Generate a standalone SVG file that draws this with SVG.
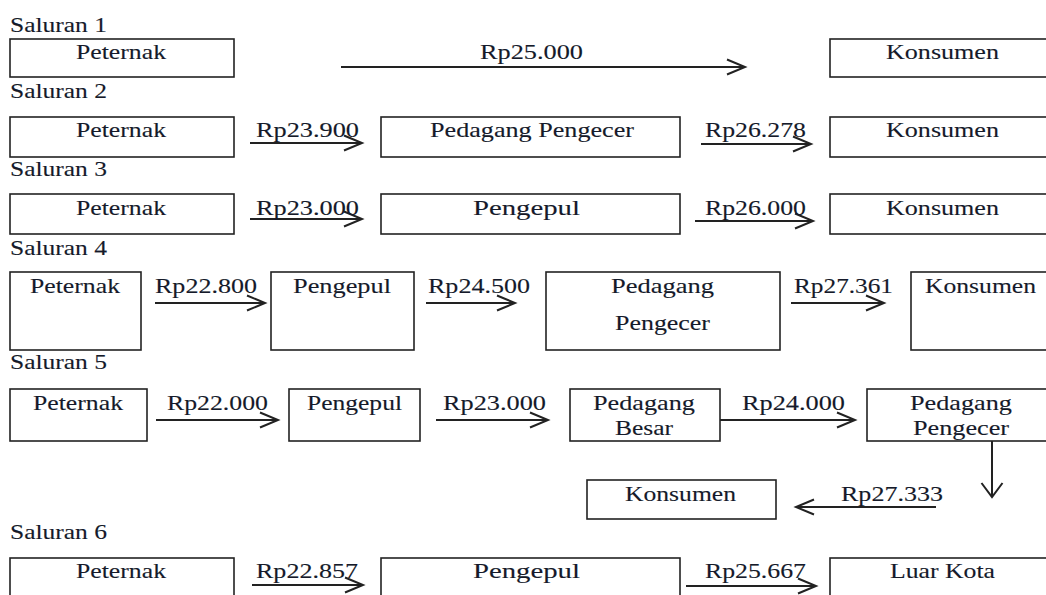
<svg xmlns="http://www.w3.org/2000/svg" width="1046" height="595" viewBox="0 0 1046 595">
<style>
  .box { fill: #fff; stroke: #222; stroke-width: 1.6; }
  .t { font-family: 'Liberation Serif', 'DejaVu Serif', 'Times New Roman', serif; font-size: 21.5px; fill: #151a2a; stroke: #151a2a; stroke-width: 0.12; }
  .ln { stroke: #222; stroke-width: 2; fill: none; }
</style>
<defs>
  <marker id="ah" viewBox="0 0 19 16" refX="18" refY="8" markerWidth="19" markerHeight="16" orient="auto" markerUnits="userSpaceOnUse" overflow="visible">
    <path d="M0,0.5 L18,8 L0,15.5" fill="none" stroke="#222" stroke-width="2"/>
  </marker>
  <marker id="ahd" viewBox="0 0 15 22" refX="14" refY="11" markerWidth="15" markerHeight="22" orient="auto" markerUnits="userSpaceOnUse" overflow="visible">
    <path d="M0,0.5 L14,11 L0,21.5" fill="none" stroke="#222" stroke-width="2"/>
  </marker>
</defs>
<rect width="1046" height="595" fill="#fff"/>

<g font-family="Liberation Serif, DejaVu Serif, serif">
<g id="titles">
  <text class="t" x="10" y="32" textLength="97" lengthAdjust="spacingAndGlyphs">Saluran 1</text>
  <text class="t" x="10" y="98" textLength="97" lengthAdjust="spacingAndGlyphs">Saluran 2</text>
  <text class="t" x="10" y="176" textLength="97" lengthAdjust="spacingAndGlyphs">Saluran 3</text>
  <text class="t" x="10" y="255" textLength="97" lengthAdjust="spacingAndGlyphs">Saluran 4</text>
  <text class="t" x="10" y="369" textLength="97" lengthAdjust="spacingAndGlyphs">Saluran 5</text>
  <text class="t" x="10" y="539" textLength="97" lengthAdjust="spacingAndGlyphs">Saluran 6</text>
</g>

<g id="s1-peternak"><rect class="box" x="10" y="39" width="224" height="38"/><text class="t" x="76" y="59" textLength="90" lengthAdjust="spacingAndGlyphs">Peternak</text></g>
<g id="s1-konsumen"><rect class="box" x="830" y="39" width="230" height="38"/><text class="t" x="886" y="59" textLength="113" lengthAdjust="spacingAndGlyphs">Konsumen</text></g>

<g id="s2-peternak"><rect class="box" x="10" y="117" width="224" height="40"/><text class="t" x="76" y="137" textLength="90" lengthAdjust="spacingAndGlyphs">Peternak</text></g>
<g id="s2-pengecer"><rect class="box" x="381" y="117" width="299" height="40"/><text class="t" x="430" y="137" textLength="204" lengthAdjust="spacingAndGlyphs">Pedagang Pengecer</text></g>
<g id="s2-konsumen"><rect class="box" x="830" y="117" width="230" height="40"/><text class="t" x="886" y="137" textLength="113" lengthAdjust="spacingAndGlyphs">Konsumen</text></g>

<g id="s3-peternak"><rect class="box" x="10" y="194" width="224" height="40"/><text class="t" x="76" y="215" textLength="90" lengthAdjust="spacingAndGlyphs">Peternak</text></g>
<g id="s3-pengepul"><rect class="box" x="381" y="194" width="299" height="40"/><text class="t" x="473" y="215" textLength="107" lengthAdjust="spacingAndGlyphs">Pengepul</text></g>
<g id="s3-konsumen"><rect class="box" x="830" y="194" width="230" height="40"/><text class="t" x="886" y="215" textLength="113" lengthAdjust="spacingAndGlyphs">Konsumen</text></g>

<g id="s4-peternak"><rect class="box" x="10" y="272" width="131" height="78"/><text class="t" x="30" y="293" textLength="90" lengthAdjust="spacingAndGlyphs">Peternak</text></g>
<g id="s4-pengepul"><rect class="box" x="271" y="272" width="143" height="78"/><text class="t" x="293" y="293" textLength="98" lengthAdjust="spacingAndGlyphs">Pengepul</text></g>
<g id="s4-pengecer"><rect class="box" x="546" y="272" width="234" height="78"/><text class="t" x="611" y="293" textLength="103" lengthAdjust="spacingAndGlyphs">Pedagang</text><text class="t" x="615" y="330" textLength="95" lengthAdjust="spacingAndGlyphs">Pengecer</text></g>
<g id="s4-konsumen"><rect class="box" x="911" y="272" width="150" height="78"/><text class="t" x="925" y="293" textLength="111" lengthAdjust="spacingAndGlyphs">Konsumen</text></g>

<g id="s5-peternak"><rect class="box" x="10" y="389" width="137" height="52"/><text class="t" x="33" y="410" textLength="90" lengthAdjust="spacingAndGlyphs">Peternak</text></g>
<g id="s5-pengepul"><rect class="box" x="289" y="389" width="131" height="52"/><text class="t" x="307" y="410" textLength="95" lengthAdjust="spacingAndGlyphs">Pengepul</text></g>
<g id="s5-besar"><rect class="box" x="570" y="389" width="150" height="52"/><text class="t" x="593" y="410" textLength="102" lengthAdjust="spacingAndGlyphs">Pedagang</text><text class="t" x="615" y="435" textLength="58" lengthAdjust="spacingAndGlyphs">Besar</text></g>
<g id="s5-pengecer"><rect class="box" x="867" y="389" width="190" height="52"/><text class="t" x="910" y="410" textLength="102" lengthAdjust="spacingAndGlyphs">Pedagang</text><text class="t" x="913" y="435" textLength="96" lengthAdjust="spacingAndGlyphs">Pengecer</text></g>
<g id="s5-konsumen"><rect class="box" x="587" y="480" width="189" height="39"/><text class="t" x="625" y="501" textLength="111" lengthAdjust="spacingAndGlyphs">Konsumen</text></g>

<g id="s6-peternak"><rect class="box" x="10" y="558" width="224" height="60"/><text class="t" x="76" y="578" textLength="90" lengthAdjust="spacingAndGlyphs">Peternak</text></g>
<g id="s6-pengepul"><rect class="box" x="381" y="558" width="299" height="60"/><text class="t" x="473" y="578" textLength="107" lengthAdjust="spacingAndGlyphs">Pengepul</text></g>
<g id="s6-luarkota"><rect class="box" x="830" y="558" width="230" height="60"/><text class="t" x="890" y="578" textLength="105" lengthAdjust="spacingAndGlyphs">Luar Kota</text></g>

<g id="connectors">
  <line class="ln" x1="341" y1="67" x2="745" y2="67" marker-end="url(#ah)"/>
  <line class="ln" x1="250" y1="143" x2="362" y2="143" marker-end="url(#ah)"/>
  <line class="ln" x1="701" y1="144" x2="811" y2="144" marker-end="url(#ah)"/>
  <line class="ln" x1="250" y1="219" x2="362" y2="219" marker-end="url(#ah)"/>
  <line class="ln" x1="695" y1="221" x2="813" y2="221" marker-end="url(#ah)"/>
  <line class="ln" x1="155" y1="303" x2="265" y2="303" marker-end="url(#ah)"/>
  <line class="ln" x1="426" y1="303" x2="515" y2="303" marker-end="url(#ah)"/>
  <line class="ln" x1="791" y1="303" x2="884" y2="303" marker-end="url(#ah)"/>
  <line class="ln" x1="156" y1="420" x2="278" y2="420" marker-end="url(#ah)"/>
  <line class="ln" x1="436" y1="420" x2="548" y2="420" marker-end="url(#ah)"/>
  <line class="ln" x1="720" y1="420" x2="855" y2="420" marker-end="url(#ah)"/>
  <line class="ln" x1="992" y1="441" x2="992" y2="497" marker-end="url(#ahd)"/>
  <line class="ln" x1="936" y1="507" x2="796" y2="507" marker-end="url(#ah)"/>
  <line class="ln" x1="252" y1="585" x2="363" y2="585" marker-end="url(#ah)"/>
  <line class="ln" x1="686" y1="586" x2="816" y2="586" marker-end="url(#ah)"/>
  <text class="t" x="480" y="59" textLength="103" lengthAdjust="spacingAndGlyphs">Rp25.000</text>
  <text class="t" x="256" y="137" textLength="103" lengthAdjust="spacingAndGlyphs">Rp23.900</text>
  <text class="t" x="705" y="137" textLength="101" lengthAdjust="spacingAndGlyphs">Rp26.278</text>
  <text class="t" x="256" y="215" textLength="103" lengthAdjust="spacingAndGlyphs">Rp23.000</text>
  <text class="t" x="705" y="215" textLength="101" lengthAdjust="spacingAndGlyphs">Rp26.000</text>
  <text class="t" x="155" y="293" textLength="102" lengthAdjust="spacingAndGlyphs">Rp22.800</text>
  <text class="t" x="428" y="293" textLength="102" lengthAdjust="spacingAndGlyphs">Rp24.500</text>
  <text class="t" x="794" y="293" textLength="99" lengthAdjust="spacingAndGlyphs">Rp27.361</text>
  <text class="t" x="167" y="410" textLength="101" lengthAdjust="spacingAndGlyphs">Rp22.000</text>
  <text class="t" x="443" y="410" textLength="103" lengthAdjust="spacingAndGlyphs">Rp23.000</text>
  <text class="t" x="742" y="410" textLength="103" lengthAdjust="spacingAndGlyphs">Rp24.000</text>
  <text class="t" x="841" y="501" textLength="102" lengthAdjust="spacingAndGlyphs">Rp27.333</text>
  <text class="t" x="256" y="578" textLength="102" lengthAdjust="spacingAndGlyphs">Rp22.857</text>
  <text class="t" x="705" y="578" textLength="101" lengthAdjust="spacingAndGlyphs">Rp25.667</text>
</g>
</g>
</svg>
